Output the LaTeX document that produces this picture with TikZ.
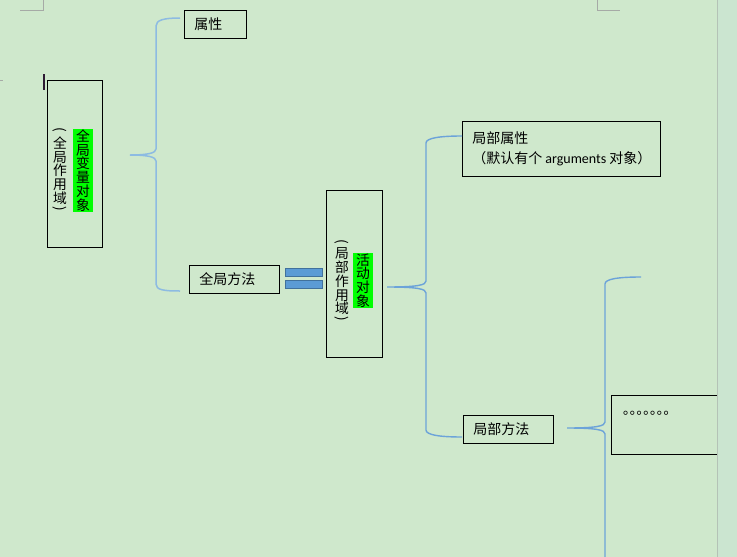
\documentclass[tikz,border=0pt]{standalone}
\usepackage{fontspec}
\setmainfont{Noto Sans CJK SC}
\newfontfamily\latinfont{Carlito}
\definecolor{bg}{RGB}{207,232,204}
\definecolor{band}{RGB}{203,229,208}
\definecolor{edge}{RGB}{180,194,182}
\definecolor{markgray}{RGB}{166,170,166}
\definecolor{braceA}{RGB}{141,187,226}
\definecolor{braceB}{RGB}{108,163,217}
\definecolor{eqfill}{RGB}{91,155,213}
\definecolor{eqdraw}{RGB}{65,113,156}
\definecolor{hl}{RGB}{0,255,0}
\definecolor{cursor}{RGB}{46,26,51}
\newcommand\fs{\fontsize{14}{16}\selectfont}
\newcommand\myvparopen{\rotatebox[origin=c]{-90}{(}}
\newcommand\myvparclose{\rotatebox[origin=c]{-90}{)}}
\begin{document}
\begin{tikzpicture}[x=1pt,y=-1pt,
  box/.style={draw=black, line width=0.9pt, anchor=north west, inner ysep=0pt, align=left, font=\fs},
  framebox/.style={draw=black, line width=0.9pt, inner sep=0pt},
  vcol/.style={align=center, inner xsep=3.3pt, inner ysep=0pt, font=\fontsize{13.8}{13.8}\selectfont},
  vpar/.style={inner sep=0pt, font=\fontsize{13.8}{13.8}\selectfont},
  brA/.style={draw=braceA, line width=1.5pt},
  brB/.style={draw=braceB, line width=1.4pt},
  eqbar/.style={draw=eqdraw, fill=eqfill, line width=0.9pt, minimum width=37, minimum height=8, inner sep=0pt},
  cropmark/.style={draw=markgray, line width=1pt}]
\useasboundingbox (0,0) rectangle (737,557);
\fill[bg] (0,0) rectangle (737,557);
\fill[band] (718,0) rectangle (737,557);

% corner marks
\draw[cropmark] (43,0) -- (43,10) -- (20,10);
\draw[cropmark] (597,0) -- (597,10) -- (620,10);
\draw[cropmark] (0,80.5) -- (3,80.5);
\fill[cursor] (43.3,74) rectangle (45.3,90);

% box 1 : global variable object
\node[framebox, minimum width=55, minimum height=167] (b1) at (74.5,163.5) {};
\node[vcol, fill=hl, minimum height=83] (g1) at (83,170.5) {全\\局\\变\\量\\对\\象};
\node[vcol, minimum height=70] (p1) at (60,170.5) {全\\局\\作\\用\\域};
\node[vpar] (p1a) at (60,131) {\myvparopen};
\node[vpar] (p1b) at (60,210) {\myvparclose};

% children of box 1
\node[box, minimum width=62, minimum height=28, text width=42, inner xsep=10] (attr) at (184,10) {属性};
\node[box, minimum width=90, minimum height=28, text width=70, inner xsep=10] (gmeth) at (189,265) {全局方法};

% brace 1
\coordinate (t1) at (130,155);
\coordinate (e1a) at (180,18);
\coordinate (e1b) at (180,291);
\draw[brA] (e1a) .. controls (164,18) and (156,20) .. (156,26) -- (156,149)
  .. controls (156,153) and (148,155) .. (t1)
  .. controls (148,155) and (156,157) .. (156,161) -- (156,284)
  .. controls (156,290) and (164,291) .. (e1b);

% equal sign
\node[eqbar] (eq1) at (303.5,272) {};
\node[eqbar] (eq2) at (303.5,284) {};

% box 2 : activation object
\node[framebox, minimum width=56, minimum height=167] (b2) at (354,273.5) {};
\node[vcol, fill=hl, minimum height=55] (g2) at (363,280.5) {活\\动\\对\\象};
\node[vcol, minimum height=70] (p2) at (342,281.5) {局\\部\\作\\用\\域};
\node[vpar] (p2a) at (342,243) {\myvparopen};
\node[vpar] (p2b) at (342,319.5) {\myvparclose};

% children of box 2
\node[box, minimum width=198, minimum height=55, text width=178, inner xsep=10,
      font=\fontsize{14}{20}\selectfont] (lattr) at (462,121)
  {局部属性\\\makebox[178pt][l]{（默认有个\hspace{3pt}{\latinfont arguments}\hspace{3pt}对象）}};
\node[box, minimum width=90, minimum height=28, text width=70, inner xsep=10] (lmeth) at (463,415) {局部方法};

% brace 2
\coordinate (t2) at (387,287);
\coordinate (e2a) at (462,136);
\coordinate (e2b) at (462,437);
\draw[brB] (e2a) .. controls (440,136) and (426,138) .. (426,143) -- (426,281)
  .. controls (426,285) and (418,287) .. (t2)
  .. controls (418,287) and (426,289) .. (426,293) -- (426,430)
  .. controls (426,435) and (440,437) .. (e2b);

% brace 3
\coordinate (t3) at (567,428);
\coordinate (e3a) at (641,277);
\coordinate (e3b) at (605,560);
\draw[brB] (e3a) .. controls (618,277) and (605,279) .. (605,284) -- (605,422)
  .. controls (605,426) and (597,428) .. (t3)
  .. controls (597,428) and (605,430) .. (605,434) -- (e3b);

% dots box
\node[framebox, anchor=north west, minimum width=106, minimum height=59] (dots) at (611,395) {};
\node[anchor=base west, inner sep=0pt, font=\fontsize{13.5}{16}\selectfont] (dotstext)
  at ([xshift=12,yshift=-19]dots.north west) {｡｡｡｡｡｡｡};

% page edge
\draw[edge, line width=1.5pt] (717.5,0) -- (717.5,557);
\end{tikzpicture}
\end{document}
